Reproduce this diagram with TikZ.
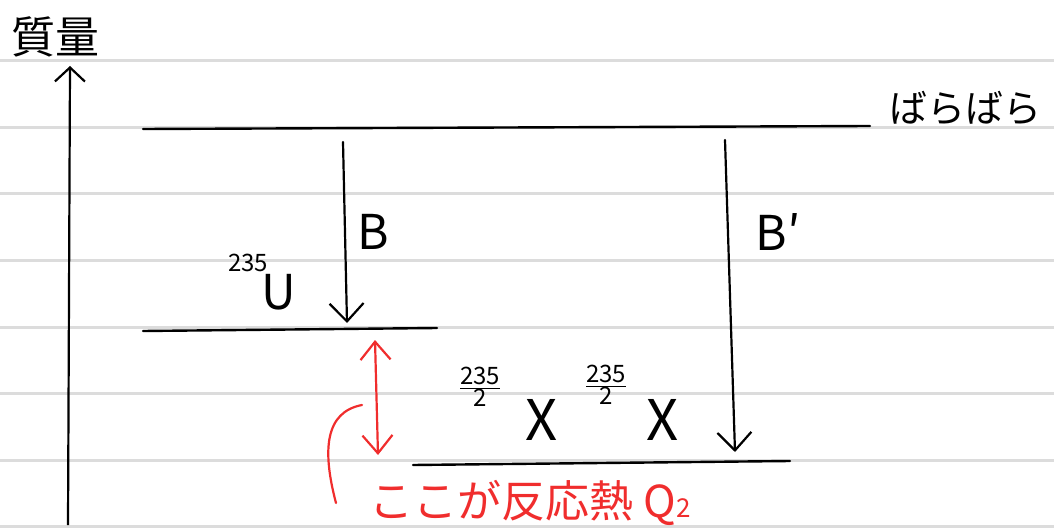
\documentclass[tikz,border=0pt]{standalone}
\usepackage{fontspec}
\setmainfont{Noto Sans CJK JP}
\usepackage{tikz}
\usetikzlibrary{arrows.meta, positioning}
\definecolor{rule-gray}{RGB}{220,220,220}
\definecolor{note-red}{RGB}{240,45,45}

\begin{document}
\begin{tikzpicture}[
    x=0.5pt, y=-0.5pt,
    every node/.style={inner sep=0pt},
    ruled/.style={draw=rule-gray, line width=1.5pt},
    level/.style={draw, line width=1.2pt, line cap=round},
    drop/.style={draw, line width=1.1pt, line cap=round,
                 -{Straight Barb[length=9pt, width=17pt, line width=1.1pt]}},
    axis/.style={draw, line width=1.1pt,
                 -{Straight Barb[length=7pt, width=15pt, line width=1.1pt]}},
    gap/.style={draw=note-red, line width=1.1pt, line cap=round,
                {Straight Barb[length=9pt, width=15pt, line width=1.1pt]}-{Straight Barb[length=9pt, width=15pt, line width=1.1pt]}},
    big/.style={font=\fontsize{24}{26}\selectfont},
    mass/.style={font=\fontsize{12}{13}\selectfont},
  ]
    \useasboundingbox (0,0) rectangle (1054,529);

    % notebook lines
    \foreach \y in {61,127.5,194,260.5,327,393.5,460,526.5}
      \draw[ruled] (0,\y) -- (1054,\y);

    % axis
    \node[font=\fontsize{22}{24}\selectfont] (title) at (55,37) {質量};
    \coordinate (axis-bot) at (68,525);
    \coordinate (axis-top) at (70,66);
    \draw[axis] (axis-bot) -- (axis-top);

    % levels
    \coordinate (top-l) at (143,129);
    \coordinate (top-r) at (870,126);
    \coordinate (u-l) at (143,331);
    \coordinate (u-r) at (437,328);
    \coordinate (x-l) at (413,465);
    \coordinate (x-r) at (790,461);
    \draw[level] (top-l) -- (top-r);
    \draw[level] (u-l) -- (u-r);
    \draw[level] (x-l) -- (x-r);
    \node[font=\fontsize{19}{21}\selectfont] (barabara) at (965,108) {ばらばら};

    % binding energies
    \coordinate (b-start) at (343,142);
    \coordinate (b-end) at (347,323);
    \coordinate (bp-start) at (725,140);
    \coordinate (bp-end) at (735,452);
    \draw[drop] (b-start) -- (b-end);
    \draw[drop] (bp-start) -- (bp-end);
    \node[big] (labelB) at (373,232) {B};
    \node[big] (labelBp) at (778,232) {B′};

    % nuclei
    \node[mass] (numU) at (248,263) {235};
    \node[big] (massU) at (279,292) {U};
    \node[mass] (fracX1) at (480,387) {$\frac{\mbox{235}}{\mbox{2}}$};
    \node[big, font=\fontsize{28}{30}\selectfont] (X1) at (542,420) {X};
    \node[mass] (fracX2) at (606,385) {$\frac{\mbox{235}}{\mbox{2}}$};
    \node[big, font=\fontsize{28}{30}\selectfont] (X2) at (663,420) {X};

    % reaction heat
    \coordinate (gap-top) at (375,340);
    \coordinate (gap-bot) at (378,455);
    \draw[gap] (gap-top) -- (gap-bot);
    \coordinate (brace-top) at (362,405);
    \coordinate (brace-bot) at (336,503);
    \draw[note-red, line width=1.1pt, line cap=round]
      (brace-top) .. controls (325,412) and (322,450) .. (brace-bot);
    \node[note-red, font=\fontsize{22}{24}\selectfont] (heatnote) at (530,503)
      {ここが反応熱 Q{\fontsize{13}{14}\selectfont 2}};
\end{tikzpicture}
\end{document}
